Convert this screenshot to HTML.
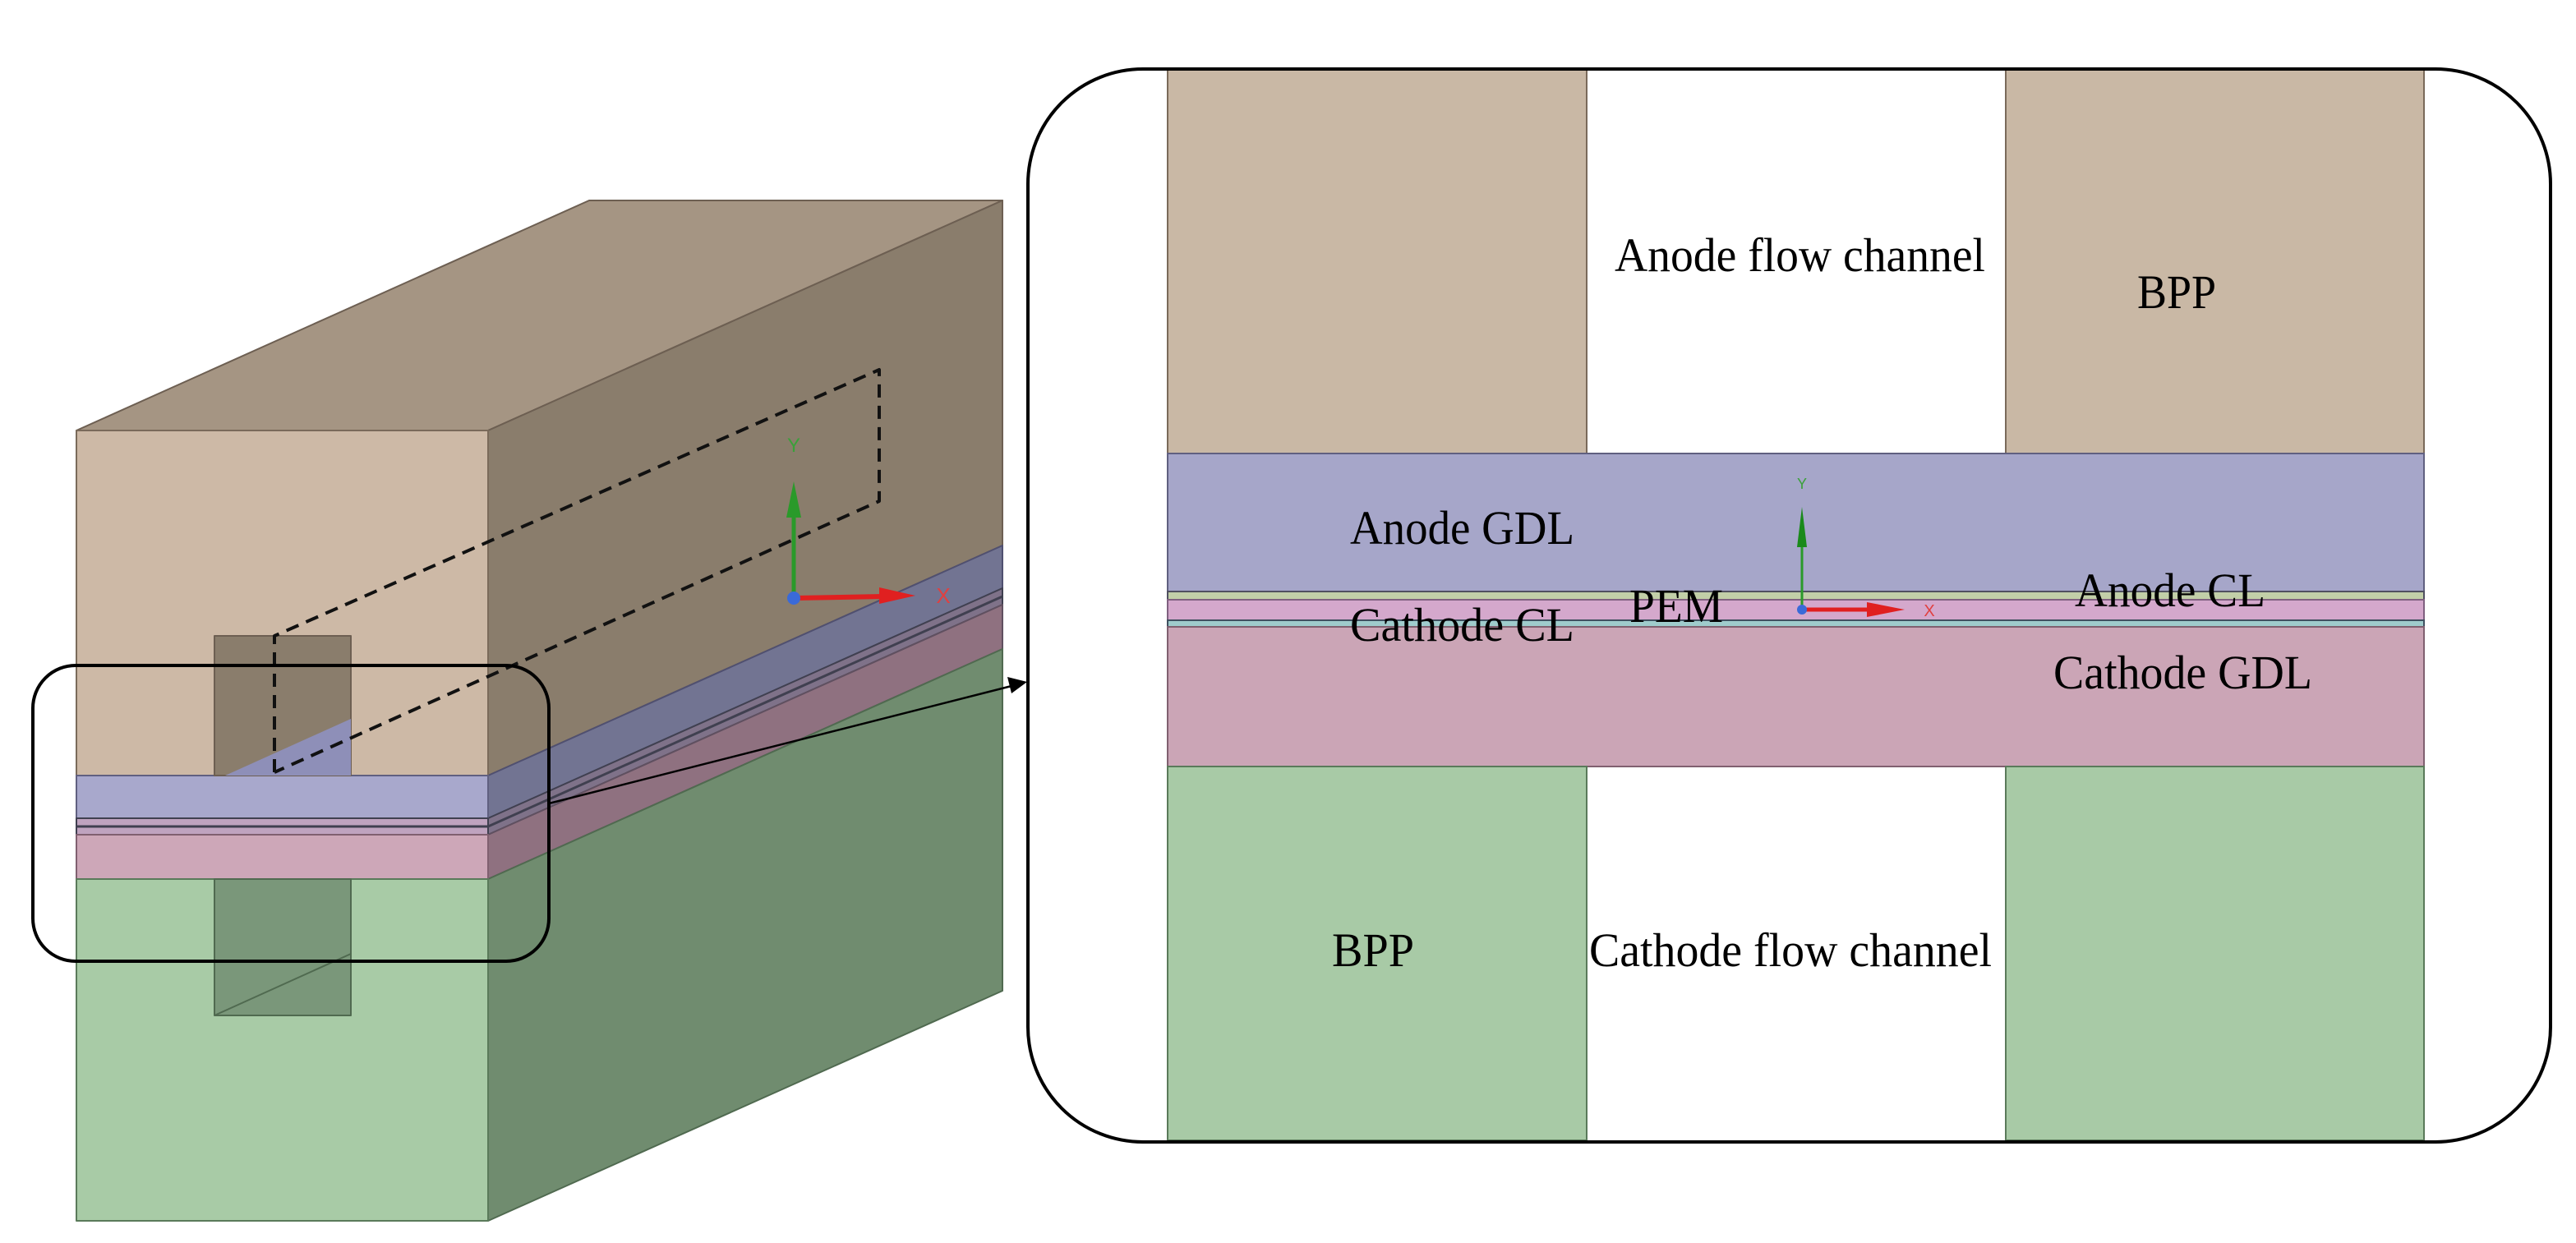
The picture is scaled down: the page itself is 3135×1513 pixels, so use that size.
<!DOCTYPE html>
<html><head><meta charset="utf-8"><style>html,body{margin:0;padding:0;background:#fff}svg{display:block}</style></head>
<body>
<svg width="3135" height="1513" viewBox="0 0 3135 1513" xmlns="http://www.w3.org/2000/svg">
<g stroke-linejoin="round">
<polygon points="93,524 717,244 1220,244 594,524" fill="#a59583" stroke="#6d5f52" stroke-width="2"/>
<polygon points="594,524 1220,244 1220,664 594,944" fill="#8a7d6c" stroke="#6d5f52" stroke-width="2"/>
<polygon points="594,944 1220,664 1220,716 594,996" fill="#727492" stroke="#505070" stroke-width="2"/>
<polygon points="594,996 1220,716 1220,736 594,1016" fill="#7f7289" stroke="#404050" stroke-width="2"/>
<polygon points="594,1016 1220,736 1220,790 594,1070" fill="#8f7180" stroke="#605060" stroke-width="2"/>
<polygon points="594,1070 1220,790 1220,1206 594,1486" fill="#708c6f" stroke="#506a50" stroke-width="2"/>
<rect x="93" y="524" width="501" height="420" fill="#cdb9a6" stroke="#7a6a5a" stroke-width="2"/>
<rect x="93" y="944" width="501" height="52" fill="#a8a8cc" stroke="#606080" stroke-width="2"/>
<rect x="93" y="996" width="501" height="20" fill="#bfa3bf" stroke="#404050" stroke-width="2"/>
<line x1="93" y1="1006" x2="594" y2="1006" stroke="#404050" stroke-width="3"/>
<line x1="594" y1="1006" x2="1220" y2="726" stroke="#404050" stroke-width="3"/>
<rect x="93" y="1016" width="501" height="54" fill="#cda7b8" stroke="#806070" stroke-width="2"/>
<rect x="93" y="1070" width="501" height="416" fill="#a8cba6" stroke="#5a7a5a" stroke-width="2"/>
<rect x="261" y="774" width="166" height="170" fill="#8a7d6c" stroke="#6d5f52" stroke-width="2"/>
<polygon points="274,944 427,875 427,944" fill="#8e8fb8"/>
<rect x="261" y="1070" width="166" height="166" fill="#7a977a" stroke="#506a50" stroke-width="2"/>
<line x1="427" y1="1161" x2="261" y2="1236" stroke="#506a50" stroke-width="2"/>
<g fill="none" stroke="#111" stroke-width="4" stroke-dasharray="16,10">
<polyline points="334,940 334,774 1070,450 1070,610 334,940"/>
</g>
<line x1="966" y1="728" x2="966" y2="620" stroke="#2a9a2a" stroke-width="5"/>
<polygon points="966,586 957,630 975,630" fill="#2a9a2a"/>
<text x="966" y="550" font-family="Liberation Sans, sans-serif" font-size="24" fill="#3aa03a" text-anchor="middle">Y</text>
<line x1="966" y1="728" x2="1075" y2="726" stroke="#e02020" stroke-width="6"/>
<polygon points="1114,725 1070,715 1070,735" fill="#e02020"/>
<text x="1148" y="734" font-family="Liberation Sans, sans-serif" font-size="26" fill="#e04040" text-anchor="middle">X</text>
<circle cx="966" cy="728" r="8" fill="#3a6ad8"/>
<rect x="40" y="810" width="628" height="360" rx="52" fill="none" stroke="#000" stroke-width="4"/>
<line x1="668" y1="978" x2="1235" y2="834" stroke="#000" stroke-width="2.5"/>
<polygon points="1250,830 1226,824 1231,844" fill="#000"/>
</g>
<g stroke-width="2">
<rect x="1421" y="84" width="510" height="468" fill="#c9b8a5" stroke="#7a6a5a"/>
<rect x="2441" y="84" width="509" height="468" fill="#c9b8a5" stroke="#7a6a5a"/>
<rect x="1421" y="552" width="1529" height="168" fill="#a6a6c9" stroke="#606080"/>
<rect x="1421" y="720" width="1529" height="10" fill="#c2cfa8" stroke="#505060"/>
<rect x="1421" y="730" width="1529" height="25" fill="#d4a8cc" stroke="#806080"/>
<rect x="1421" y="755" width="1529" height="8" fill="#9fcccc" stroke="#405060"/>
<rect x="1421" y="763" width="1529" height="170" fill="#cba5b6" stroke="#806070"/>
<rect x="1421" y="933" width="510" height="455" fill="#a8caa6" stroke="#5a7a5a"/>
<rect x="2441" y="933" width="509" height="455" fill="#a8caa6" stroke="#5a7a5a"/>
</g>
<rect x="1251" y="84" width="1853" height="1306" rx="140" fill="none" stroke="#000" stroke-width="4"/>
<line x1="2193" y1="742" x2="2193" y2="650" stroke="#2a9a2a" stroke-width="3"/>
<polygon points="2193,617 2187,666 2199,666" fill="#1a8a1a"/>
<text x="2193" y="595" font-family="Liberation Sans, sans-serif" font-size="18" fill="#3aa03a" text-anchor="middle">Y</text>
<line x1="2193" y1="742" x2="2280" y2="742" stroke="#e02020" stroke-width="5"/>
<polygon points="2318,742 2272,733 2272,751" fill="#e02020"/>
<text x="2348" y="750" font-family="Liberation Sans, sans-serif" font-size="20" fill="#e04040" text-anchor="middle">X</text>
<circle cx="2193" cy="742" r="6" fill="#3a6ad8"/>
<g font-family="Liberation Serif, serif" font-size="58" fill="#000">
<text x="1965" y="330" textLength="451" lengthAdjust="spacingAndGlyphs">Anode flow channel</text>
<text x="2601" y="375" textLength="96" lengthAdjust="spacingAndGlyphs">BPP</text>
<text x="1643" y="662" textLength="273" lengthAdjust="spacingAndGlyphs">Anode GDL</text>
<text x="1983" y="757" textLength="114" lengthAdjust="spacingAndGlyphs">PEM</text>
<text x="1643" y="780" textLength="273" lengthAdjust="spacingAndGlyphs">Cathode CL</text>
<text x="2525" y="738" textLength="232" lengthAdjust="spacingAndGlyphs">Anode CL</text>
<text x="2499" y="838" textLength="315" lengthAdjust="spacingAndGlyphs">Cathode GDL</text>
<text x="1621" y="1176" textLength="100" lengthAdjust="spacingAndGlyphs">BPP</text>
<text x="1934" y="1176" textLength="490" lengthAdjust="spacingAndGlyphs">Cathode flow channel</text>
</g>
</svg>
</body></html>
